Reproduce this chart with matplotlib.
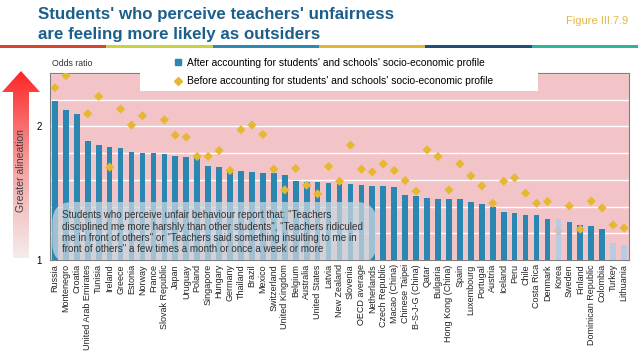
import numpy as np
import matplotlib
matplotlib.use("Agg")
import matplotlib.pyplot as plt
from matplotlib.patches import Polygon, Rectangle, FancyBboxPatch
from matplotlib.lines import Line2D
from matplotlib.colors import LinearSegmentedColormap

plt.rcParams['font.family'] = ['Liberation Sans', 'DejaVu Sans']

##Data

countries = ["Russia", "Montenegro", "Croatia", "United Arab Emirates", "Tunisia",
             "Ireland", "Greece", "Estonia", "Norway", "France", "Slovak Republic",
             "Japan", "Uruguay", "Poland", "Singapore", "Hungary", "Germany",
             "Thailand", "Brazil", "Mexico", "Switzerland", "United Kingdom",
             "Belgium", "Australia", "United States", "Latvia", "New Zealand",
             "Slovenia", "OECD average", "Netherlands", "Czech Republic",
             "Macao (China)", "Chinese Taipei", "B-S-J-G (China)", "Qatar",
             "Bulgaria", "Hong Kong (China)", "Spain", "Luxembourg", "Portugal",
             "Austria", "Iceland", "Peru", "Chile", "Costa Rica", "Denmark",
             "Korea", "Sweden", "Finland", "Dominican Republic", "Colombia",
             "Turkey", "Lithuania"]

#Odds ratio after accounting for socio-economic profile (bars)
after = [2.19, 2.125, 2.09, 1.89, 1.86, 1.845, 1.835, 1.81, 1.80, 1.80, 1.79,
         1.78, 1.77, 1.76, 1.70, 1.695, 1.67, 1.67, 1.66, 1.655, 1.65, 1.635,
         1.59, 1.585, 1.585, 1.58, 1.57, 1.57, 1.565, 1.555, 1.553, 1.55, 1.49,
         1.48, 1.465, 1.46, 1.46, 1.46, 1.435, 1.42, 1.40, 1.3625, 1.35, 1.34,
         1.335, 1.31, 1.305, 1.285, 1.2625, 1.255, 1.2325, 1.125, 1.115]

#Odds ratio before accounting (diamonds)
before = [2.29, 2.38, 2.45, 2.095, 2.225, 1.695, 2.13, 2.01, 2.08, 2.30, 2.05,
          1.935, 1.92, 1.775, 1.775, 1.82, 1.67, 1.975, 2.01, 1.94, 1.68, 1.525,
          1.685, 1.56, 1.495, 1.70, 1.59, 1.86, 1.68, 1.66, 1.72, 1.67, 1.595,
          1.515, 1.825, 1.775, 1.525, 1.72, 1.63, 1.555, 1.425, 1.59, 1.615,
          1.50, 1.425, 1.4375, 1.2175, 1.405, 1.23, 1.44, 1.39, 1.2625, 1.24]

#Not significant values drawn lighter
light_after = ["Korea", "Turkey", "Lithuania"]
light_before = ["Korea"]

y_ticks = [1, 2]

blue = '#2A87B1'
light_blue = '#B7CBE3'
gold = '#E6B832'
grey = '#C4C4C4'
pink = '#F2C3C7'
title_col = '#1C5F8D'

fig = plt.figure(figsize=(6.38, 3.59), dpi=100)

W, H = 638.0, 359.0
def fx(px):
    return px / W
def fy(py):
    return 1 - py / H

ax = fig.add_axes([fx(50), fy(260), fx(629) - fx(50), fy(73) - fy(260)])
ax.set_facecolor(pink)

x = np.arange(len(countries))
bar_cols = [light_blue if c in light_after else blue for c in countries]
ax.bar(x, after, width=0.52, color=bar_cols, bottom=0, zorder=2)
dia_cols = [grey if c in light_before else gold for c in countries]
ax.scatter(x, before, marker='D', s=22, c=dia_cols, linewidths=0, zorder=3)

ax.set_xlim(-0.45, len(countries) - 0.55)
ax.set_ylim(1, 2.4)
grid_vals = np.arange(1, 2.41, 0.2)
ax.set_yticks(grid_vals)
ax.set_yticklabels([str(int(round(v))) if any(abs(v - t) < 1e-6 for t in y_ticks) else ''
                    for v in grid_vals], fontsize=7)
ax.tick_params(axis='y', length=0, pad=6)
ax.yaxis.grid(True, color='white', linewidth=1.0)
ax.set_axisbelow(True)
ax.set_xticks(x)
ax.set_xticklabels(countries, rotation=90, fontsize=6.5, color='#222222')
ax.tick_params(axis='x', length=0, pad=3)
for s in ax.spines.values():
    s.set_color('#7F7F7F')
    s.set_linewidth(0.8)

#Note box inside the plot
box = FancyBboxPatch((0.004, -0.02), 0.56, 0.33, transform=ax.transAxes,
                     boxstyle='round,pad=0,rounding_size=0.035',
                     facecolor='#C8D6DF', edgecolor='none', alpha=0.75,
                     zorder=4, mutation_aspect=579 / 187.0, clip_on=True)
ax.add_patch(box)
note = ('Students who perceive unfair behaviour report that: "Teachers\n'
        'disciplined me more harshly than other students", "Teachers ridiculed\n'
        'me in front of others" or "Teachers said something insulting to me in\n'
        'front of others" a few times a month or once a week or more')
ax.text(0.021, 0.265, note, transform=ax.transAxes, fontsize=7.1,
        va='top', ha='left', color='#333333', linespacing=1.15, zorder=5)

#White patch behind the legend
fig.patches.append(Rectangle((fx(140), fy(91)), fx(538) - fx(140), fy(60) - fy(91),
                             transform=fig.transFigure, facecolor='white',
                             edgecolor='none', zorder=1))
handles = [Line2D([], [], marker='s', color=blue, linestyle='none', markersize=5),
           Line2D([], [], marker='D', color=gold, linestyle='none', markersize=4.5)]
labels = ["After accounting for students' and schools' socio-economic profile",
          "Before accounting for students' and schools' socio-economic profile"]
leg = fig.legend(handles, labels, loc='center left', bbox_to_anchor=(fx(174), fy(72)),
                 frameon=False, fontsize=7.4, handlelength=0.8, handletextpad=0.5,
                 labelspacing=0.85, borderaxespad=0, borderpad=0)
leg.set_zorder(6)

#Title and header
fig.text(fx(38), fy(7), "Students' who perceive teachers' unfairness\nare feeling more likely as outsiders",
         fontsize=12.2, fontweight='bold', color=title_col, va='top', ha='left', linespacing=1.38)
fig.text(fx(628), fy(21), "Figure III.7.9", fontsize=8, color='#E3B64A', va='center', ha='right')
bar_colors = ['#D8432E', '#C9D341', '#2B8AB6', '#E2B532', '#1E4F7A', '#2DB79A']
seg = W / len(bar_colors)
for k, c in enumerate(bar_colors):
    fig.patches.append(Rectangle((fx(k * seg), fy(47.5)), fx(seg), fy(44.5) - fy(47.5),
                                 transform=fig.transFigure, facecolor=c, edgecolor='none'))

fig.text(fx(52), fy(63), "Odds ratio", fontsize=6.3, color='#333333', va='center', ha='left')

#Gradient arrow on the left
ax_arr = fig.add_axes([0, fy(262), fx(45), fy(65) - fy(262)])
ax_arr.set_xlim(0, 45)
ax_arr.set_ylim(262, 65)
ax_arr.axis('off')
grad = np.linspace(0, 1, 256).reshape(-1, 1)
cmap = LinearSegmentedColormap.from_list('arr', ['#FF1E1E', '#F4A0A0', '#F3F0F0'])
img = ax_arr.imshow(grad, extent=(0, 45, 262, 66), aspect='auto', cmap=cmap, origin='upper')
arrow = Polygon([(21, 71), (2, 92), (13, 92), (13, 258), (29, 258), (29, 92), (40, 92)],
                closed=True, facecolor='none', edgecolor='none', transform=ax_arr.transData)
ax_arr.add_patch(arrow)
img.set_clip_path(arrow)
ax_arr.text(21, 171, "Greater alineation", rotation=90, fontsize=7.5, color='#404040',
            ha='center', va='center')

plt.savefig("out.png", dpi=100)
